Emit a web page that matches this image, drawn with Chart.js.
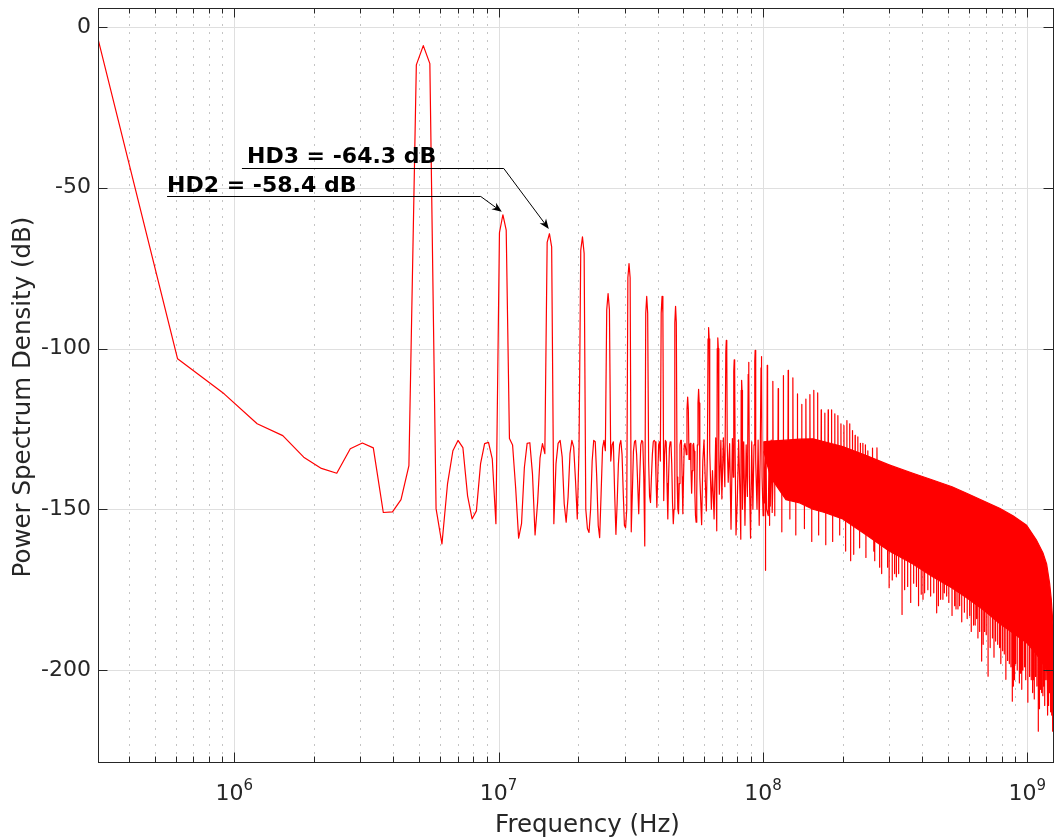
<!DOCTYPE html>
<html>
<head>
<meta charset="utf-8">
<script src="https://cdn.jsdelivr.net/npm/chart.js@4.4.1/dist/chart.umd.min.js"></script>
<style>
  html, body { margin: 0; padding: 0; background: #fff; }
  canvas { display: block; }
</style>
</head>
<body>
<canvas id="psd" width="1054" height="839"></canvas>
<script>
// FFT bin width (2.5 GS/s, 8192 points)
var binHz = 2.5e9 / 8192;

// PSD of FFT bins 1..186, one value per bin (dB)
var lowDb = [
  -3.7, -103.2, -114.1, -123.4, -127.1, -133.8, -137.3, -138.8, -131.2, -129.4,
  -130.9, -151.0, -150.8, -147.0, -136.4, -11.8, -5.8, -11.4, -149.8, -160.8,
  -142.0, -131.8, -128.6, -130.8, -145.8, -153.0, -150.5, -135.8, -129.6, -129.2,
  -134.3, -154.5, -64.0, -58.4, -63.2, -128.0, -130.0, -143.3, -159.0, -154.5,
  -137.0, -129.5, -129.3, -139.0, -158.0, -148.0, -134.0, -129.6, -132.7, -67.0,
  -64.3, -68.4, -154.5, -135.8, -129.5, -128.6, -133.8, -148.3, -154.0, -146.2,
  -132.7, -128.6, -130.7, -141.0, -153.0, -131.0, -69.4, -65.3, -70.4, -150.0,
  -156.0, -157.2, -150.0, -135.0, -128.6, -129.0, -140.0, -155.0, -158.8, -145.0,
  -131.0, -128.6, -131.8, -88.0, -82.9, -88.0, -135.0, -130.0, -129.0, -145.0,
  -157.8, -148.0, -136.0, -130.0, -128.6, -133.0, -145.0, -155.0, -155.7, -150.0,
  -78.0, -73.6, -78.0, -157.0, -145.0, -132.0, -129.0, -128.6, -133.0, -142.0,
  -151.4, -140.0, -130.0, -128.6, -129.0, -140.0, -161.4, -89.0, -83.8, -89.0,
  -135.0, -146.0, -147.9, -140.0, -133.0, -129.0, -128.6, -129.0, -140.0, -149.4,
  -140.0, -130.0, -129.0, -135.0, -89.0, -83.8, -89.0, -147.3, -133.0, -128.6,
  -129.0, -142.0, -153.0, -140.0, -131.0, -129.0, -129.5, -136.0, -148.0, -154.5,
  -150.0, -92.0, -86.9, -92.0, -140.0, -150.0, -151.4, -142.0, -130.0, -128.6,
  -128.6, -140.0, -151.4, -140.0, -130.0, -129.5, -131.0, -133.0, -119.0, -115.1,
  -119.0, -134.5, -130.0, -129.5, -138.0, -145.0, -138.0, -130.0, -129.5, -132.0,
  -145.0, -152.0, -154.0, -145.0, -130.0, -117.0
];

// turning points of the trace between bin 187 and 360
var midBin = [
  187, 188, 189, 192, 194, 196, 198, 200, 202, 203,
  204, 205, 206, 209, 211, 214, 217, 219, 220, 221,
  222, 223, 224, 227, 229, 232, 235, 237, 238, 239,
  240, 242, 245, 248, 251, 253, 254, 255, 256, 257,
  259, 262, 265, 268, 270, 271, 272, 273, 274, 277,
  280, 283, 286, 288, 289, 290, 291, 294, 297, 300,
  303, 305, 306, 307, 308, 311, 314, 317, 320, 322,
  323, 324, 325, 328, 330, 333, 336, 338, 343, 346,
  349, 352, 355, 360
];
var midDb = [
  -112.7, -117, -140, -154.8, -135, -128.4, -140, -150.5, -131, -97,
  -93.5, -97, -132, -150, -138, -153, -127.8, -156.7, -100, -96.7,
  -100, -135, -145.3, -128.6, -146.8, -127.8, -143, -101, -97.5, -101,
  -130, -141.6, -129.6, -156.2, -128, -140, -107, -103.5, -107, -132,
  -158, -147.1, -128.4, -145, -159.3, -113, -109.9, -113, -150, -129,
  -155, -130, -146, -108, -104.3, -108, -140, -159, -129, -150,
  -130, -104, -100.6, -104, -135, -150, -128.5, -155, -131, -106,
  -102.5, -106, -140, -152, -129, -148, -129, -150, -152, -129,
  -149, -128.5, -151, -129
];

// dense part of the spectrum (bin 330 .. 4096): upper and lower edge of the band
var bandBin = [330, 350, 400, 451, 506, 560, 656, 806, 983, 1209, 1436, 1700, 1931, 2250, 2573, 2890, 3255, 3541, 3751, 3874, 3977, 4035, 4096];
var bandTop = [-129, -128.8, -128.5, -128.2, -128.1, -129, -130.5, -133.3, -136.2, -138.8, -140.9, -143, -145, -147.5, -149.7, -152, -155, -159.5, -163.5, -167, -173, -178, -186];
var bandBottom = [-132, -140, -147, -148, -150, -151, -153, -158, -163, -167, -171, -174.5, -177.5, -181.5, -185.5, -188.5, -191.5, -195, -198, -200, -203, -206, -212];

// harmonic spikes rising out of the band
var harmBin = [
  340, 357, 374, 391, 408, 425, 442, 459, 476, 493,
  510, 527, 544, 561, 578, 595, 612, 629, 646, 663,
  680, 697, 714, 731, 748, 765, 782, 799, 816, 850,
  884
];
var harmDb = [
  -105.2, -110.2, -112.5, -108.4, -106.8, -109.1, -114.1, -117.4, -115.7, -114.3,
  -113, -113.8, -119.1, -120.1, -119.1, -119.1, -120.3, -120.9, -123.4, -124,
  -122.4, -123.4, -125.5, -127, -127.5, -129.5, -129.5, -130, -131.8, -131,
  -130.9
];
var harmBase = -136;

// single-bin notches below the band: where they leave the band, where they end
var notchBin = [
  335, 347, 363, 386, 414, 436, 470, 501, 532, 566,
  601, 639, 673, 703, 722, 760, 803, 860, 867, 905,
  921, 970, 983, 1010, 1031, 1047, 1068, 1100, 1125, 1155,
  1186, 1217, 1247, 1270, 1300, 1320, 1339, 1377, 1411, 1450,
  1487, 1510, 1539, 1570, 1590, 1622, 1653, 1700, 1739, 1760,
  1790, 1816, 1850, 1893, 1940, 1982, 2010, 2051, 2080, 2106,
  2130, 2162, 2200, 2230, 2257, 2290, 2327, 2370, 2417, 2450,
  2485, 2530, 2573, 2600, 2641, 2680, 2717, 2758, 2800, 2840,
  2874, 2900, 2930, 2957, 3000, 3056, 3088, 3120, 3151, 3198,
  3230, 3290, 3341, 3390, 3430, 3459, 3480, 3519, 3560, 3604,
  3640, 3677, 3710, 3751, 3774, 3810, 3853, 3890, 3920, 3941,
  3977, 4011, 4035, 4060, 4075, 4090
];
var notchFrom = [
  -134, -138, -138, -139, -139, -139, -140, -141, -142, -143,
  -144, -146, -147, -148, -149, -150, -152, -153, -154, -155,
  -155, -156, -157, -158, -157, -158, -158, -159, -160, -160,
  -160, -161, -161, -162, -163, -163, -162, -163, -163, -164,
  -164, -165, -165, -166, -166, -166, -166, -167, -167, -168,
  -168, -168, -169, -169, -170, -171, -171, -171, -172, -172,
  -172, -172, -173, -174, -174, -174, -174, -175, -175, -176,
  -177, -177, -178, -178, -179, -179, -179, -180, -180, -181,
  -181, -181, -182, -182, -182, -183, -183, -183, -184, -184,
  -184, -185, -185, -186, -186, -187, -187, -188, -188, -188,
  -189, -190, -190, -191, -191, -191, -192, -193, -194, -195,
  -196, -198, -199, -200, -202, -204
];
var notchDb = [
  -169, -155, -152, -157, -153, -158, -156, -160, -158, -161,
  -160, -158, -163, -166, -164, -162, -165, -163, -166, -168,
  -170, -168, -174.4, -172, -170, -171, -170, -182.7, -175, -174,
  -179, -173, -174, -180, -176.4, -178, -176, -175, -177, -176,
  -182.2, -180, -178, -178, -176, -177, -179, -183, -180, -181,
  -181, -180, -185, -182, -184, -183, -188, -186, -186, -184,
  -190, -188, -197.2, -192, -188, -189, -201.9, -193, -190, -196,
  -191, -192, -193, -198, -194, -195, -202.9, -197, -198, -199,
  -209.7, -205, -203, -198, -200, -204, -201, -206, -200, -199,
  -203, -210, -202, -203, -207, -203, -209, -202, -205, -219,
  -212, -206, -207, -208, -205, -211, -203, -208, -214, -211,
  -207, -213, -209, -214, -219, -218
];

// axes
var yTicks = [-200, -150, -100, -50, 0];
var xDecades = [6, 7, 8, 9];
var yMin = -228.6;
var yMax = 5.9;
var xMin = binHz;
var xMax = 4096 * binHz;
var xTitle = "Frequency (Hz)";
var yTitle = "Power Spectrum Density (dB)";

// harmonic annotations
var hdText = ["HD2 = -58.4 dB", "HD3 = -64.3 dB"];
var hdTextHz = [5.57e5, 1.117e6];
var hdTextDb = [-51.3, -42.3];
var hdLineHz = [5.57e5, 1.069e6];
var hdLineDb = [-52.5, -43.8];
var hdElbowHz = [8.56e6, 1.046e7];
var hdTipHz = [1.028e7, 1.548e7];
var hdTipDb = [-57.5, -62.8];

var trace = [];
for (var i = 0; i < lowDb.length; i++) {
  trace.push({ x: (i + 1) * binHz, y: lowDb[i] });
}
for (var i = 0; i < midBin.length; i++) {
  trace.push({ x: midBin[i] * binHz, y: midDb[i] });
}

var harmonics = [];
for (var i = 0; i < harmBin.length; i++) {
  harmonics.push({ x: (harmBin[i] - 1) * binHz, y: harmBase });
  harmonics.push({ x: harmBin[i] * binHz, y: harmDb[i] });
  harmonics.push({ x: (harmBin[i] + 1) * binHz, y: harmBase });
}

var notches = [];
for (var i = 0; i < notchBin.length; i++) {
  notches.push({ x: notchBin[i] * binHz, y: notchFrom[i] });
  notches.push({ x: notchBin[i] * binHz, y: notchDb[i] });
  notches.push({ x: notchBin[i] * binHz, y: notchFrom[i] });
}

var upper = [];
var lower = [];
for (var i = 0; i < bandBin.length; i++) {
  upper.push({ x: bandBin[i] * binHz, y: bandTop[i] });
  lower.push({ x: bandBin[i] * binHz, y: bandBottom[i] });
}

var axisColor = "#262626";
var fontName = "'DejaVu Sans', 'Noto Sans', sans-serif";

function minorValues() {
  var out = [];
  for (var e = 5; e <= 9; e++) {
    for (var m = 2; m <= 9; m++) {
      var v = m * Math.pow(10, e);
      if (v > xMin && v < xMax) out.push(v);
    }
  }
  return out;
}

function vline(ctx, x, y0, y1) {
  ctx.beginPath();
  ctx.moveTo(x, y0);
  ctx.lineTo(x, y1);
  ctx.stroke();
}

function hline(ctx, y, x0, x1) {
  ctx.beginPath();
  ctx.moveTo(x0, y);
  ctx.lineTo(x1, y);
  ctx.stroke();
}

// grid, box, inward ticks, 10^n labels, axis titles and the HD arrows
var axesBox = {
  id: "axesBox",

  beforeDatasetsDraw: function (chart) {
    var ctx = chart.ctx;
    var a = chart.chartArea;
    var sx = chart.scales.x;
    var sy = chart.scales.y;

    ctx.save();
    ctx.lineWidth = 1;

    ctx.strokeStyle = "#c4c4c4";
    ctx.setLineDash([2, 6]);
    minorValues().forEach(function (v) {
      vline(ctx, Math.round(sx.getPixelForValue(v)) + 0.5, a.top, a.bottom);
    });
    ctx.setLineDash([]);

    ctx.strokeStyle = "#dfdfdf";
    xDecades.forEach(function (e) {
      vline(ctx, Math.round(sx.getPixelForValue(Math.pow(10, e))) + 0.5, a.top, a.bottom);
    });
    yTicks.forEach(function (v) {
      hline(ctx, Math.round(sy.getPixelForValue(v)) + 0.5, a.left, a.right);
    });
    ctx.restore();
  },

  afterDatasetsDraw: function (chart) {
    var ctx = chart.ctx;
    var a = chart.chartArea;
    var sx = chart.scales.x;
    var sy = chart.scales.y;

    ctx.save();
    ctx.lineWidth = 1;
    ctx.strokeStyle = axisColor;
    ctx.strokeRect(a.left + 0.5, a.top + 0.5, a.right - a.left, a.bottom - a.top);

    // ticks pointing inward on all four sides
    minorValues().forEach(function (v) {
      var px = Math.round(sx.getPixelForValue(v)) + 0.5;
      vline(ctx, px, a.bottom, a.bottom - 5.5);
      vline(ctx, px, a.top, a.top + 5.5);
    });
    xDecades.forEach(function (e) {
      var px = Math.round(sx.getPixelForValue(Math.pow(10, e))) + 0.5;
      vline(ctx, px, a.bottom, a.bottom - 9.5);
      vline(ctx, px, a.top, a.top + 9.5);
    });
    yTicks.forEach(function (v) {
      var py = Math.round(sy.getPixelForValue(v)) + 0.5;
      hline(ctx, py, a.left, a.left + 9.5);
      hline(ctx, py, a.right, a.right - 9.5);
    });

    // 10^n tick labels
    ctx.fillStyle = axisColor;
    ctx.textBaseline = "alphabetic";
    ctx.textAlign = "left";
    xDecades.forEach(function (e) {
      var px = sx.getPixelForValue(Math.pow(10, e));
      ctx.font = "22px " + fontName;
      var w1 = ctx.measureText("10").width;
      ctx.font = "15px " + fontName;
      var w2 = ctx.measureText(String(e)).width;
      var x0 = px - (w1 + w2) / 2;
      ctx.font = "22px " + fontName;
      ctx.fillText("10", x0, a.bottom + 38);
      ctx.font = "15px " + fontName;
      ctx.fillText(String(e), x0 + w1, a.bottom + 28);
    });

    // axis titles
    ctx.font = "24.5px " + fontName;
    ctx.textAlign = "center";
    ctx.fillText(xTitle, (a.left + a.right) / 2 + 12, a.bottom + 70);
    ctx.save();
    ctx.translate(23.5, (a.top + a.bottom) / 2 + 12);
    ctx.rotate(-Math.PI / 2);
    ctx.textBaseline = "middle";
    ctx.fillText(yTitle, 0, 0);
    ctx.restore();

    // annotations
    ctx.textAlign = "left";
    ctx.textBaseline = "alphabetic";
    ctx.fillStyle = "#000";
    ctx.strokeStyle = "#000";
    ctx.font = "bold 22px " + fontName;
    for (var i = 0; i < hdText.length; i++) {
      var tx = sx.getPixelForValue(hdTextHz[i]);
      var ty = sy.getPixelForValue(hdTextDb[i]);
      ctx.fillText(hdText[i], tx, ty);

      var lx = sx.getPixelForValue(hdLineHz[i]);
      var ly = Math.round(sy.getPixelForValue(hdLineDb[i])) + 0.5;
      var ex = sx.getPixelForValue(hdElbowHz[i]);
      var px = sx.getPixelForValue(hdTipHz[i]);
      var py = sy.getPixelForValue(hdTipDb[i]);
      var ang = Math.atan2(py - ly, px - ex);
      var c = Math.cos(ang);
      var s = Math.sin(ang);

      ctx.beginPath();
      ctx.moveTo(lx, ly);
      ctx.lineTo(ex, ly);
      ctx.lineTo(px - 6 * c, py - 6 * s);
      ctx.stroke();

      ctx.beginPath();
      ctx.moveTo(px, py);
      ctx.lineTo(px - 10 * c + 4 * s, py - 10 * s - 4 * c);
      ctx.lineTo(px - 7 * c, py - 7 * s);
      ctx.lineTo(px - 10 * c - 4 * s, py - 10 * s + 4 * c);
      ctx.closePath();
      ctx.fill();
    }
    ctx.restore();
  },
};

var lineStyle = {
  borderColor: "#ff0000",
  backgroundColor: "#ff0000",
  borderWidth: 1.2,
  pointRadius: 0,
  tension: 0,
  borderJoinStyle: "round",
};

new Chart(document.getElementById("psd"), {
  type: "line",

  data: {
    datasets: [
      Object.assign({ data: trace, fill: false }, lineStyle),
      Object.assign({ data: harmonics, fill: false }, lineStyle),
      Object.assign({ data: notches, fill: false }, lineStyle),
      Object.assign({ data: upper, fill: "+1" }, lineStyle),
      Object.assign({ data: lower, fill: false }, lineStyle),
    ],
  },

  options: {
    responsive: false,
    animation: false,
    devicePixelRatio: 1,
    events: [],

    layout: {
      padding: { top: 8, right: 1, left: 0, bottom: 0 },
    },

    plugins: {
      legend: { display: false },
      tooltip: { enabled: false },
    },

    scales: {
      x: {
        type: "logarithmic",
        min: xMin,
        max: xMax,
        grid: { display: false, drawTicks: false },
        border: { display: false },
        ticks: { display: false },
        afterFit: function (scale) {
          scale.height = 77;
          scale.paddingLeft = 0;
          scale.paddingRight = 0;
        },
      },

      y: {
        type: "linear",
        min: yMin,
        max: yMax,
        grid: { display: false, drawTicks: false },
        border: { display: false },
        afterBuildTicks: function (scale) {
          scale.ticks = yTicks.map(function (v) {
            return { value: v };
          });
        },
        ticks: {
          color: axisColor,
          padding: 7,
          font: { family: fontName, size: 22 },
          callback: function (value) {
            return String(value);
          },
        },
        afterFit: function (scale) {
          scale.width = 98;
          scale.paddingTop = 0;
          scale.paddingBottom = 0;
        },
      },
    },
  },

  plugins: [axesBox],
});
</script>
</body>
</html>
